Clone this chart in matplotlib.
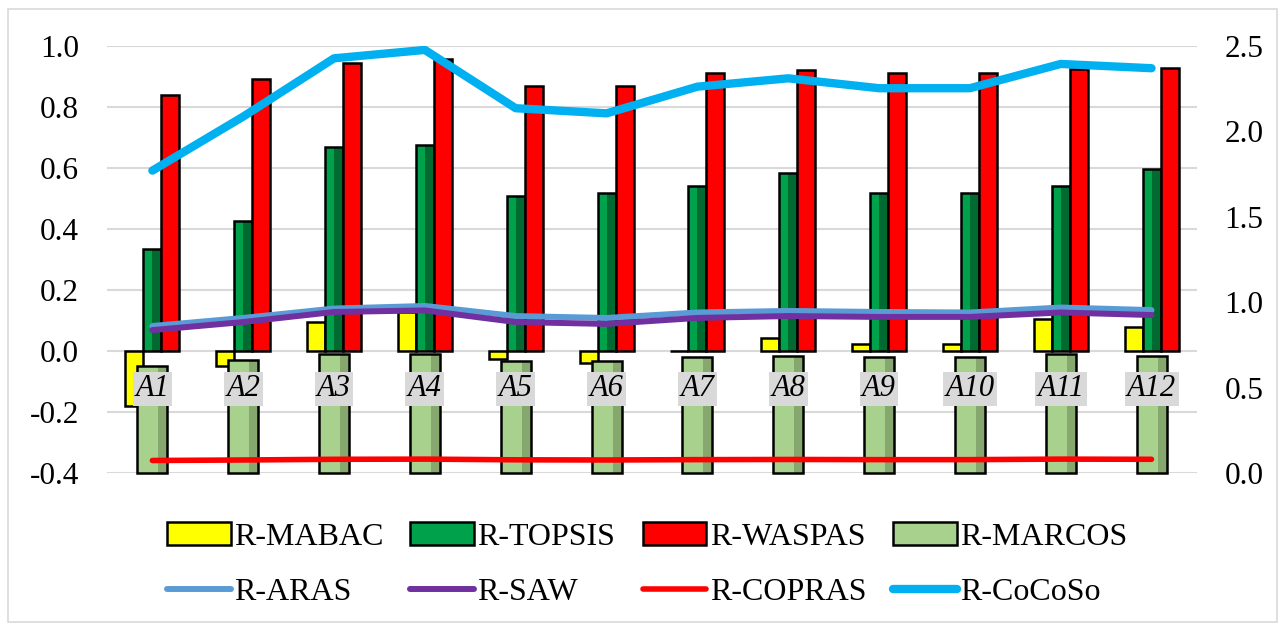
import matplotlib
matplotlib.use("Agg")
import matplotlib.pyplot as plt
import numpy as np
from matplotlib.patches import Patch, Rectangle
from matplotlib.lines import Line2D

# ---- data -------------------------------------------------------------
alternatives = ["A1", "A2", "A3", "A4", "A5", "A6",
                "A7", "A8", "A9", "A10", "A11", "A12"]

# primary axis (bars)
r_mabac = [-0.180, -0.047, 0.096, 0.130, -0.025, -0.040,
           0.000, 0.044, 0.024, 0.024, 0.104, 0.080]
r_topsis = [0.335, 0.428, 0.670, 0.676, 0.509, 0.520,
            0.540, 0.583, 0.518, 0.518, 0.542, 0.596]
r_waspas = [0.839, 0.891, 0.943, 0.956, 0.870, 0.868,
            0.910, 0.921, 0.912, 0.912, 0.925, 0.927]

# secondary axis (bars + lines)
r_marcos = [0.628, 0.663, 0.698, 0.698, 0.657, 0.657,
            0.682, 0.686, 0.682, 0.682, 0.698, 0.686]
r_aras = [0.862, 0.909, 0.964, 0.979, 0.920, 0.909,
          0.941, 0.950, 0.944, 0.941, 0.970, 0.955]
r_saw = [0.838, 0.885, 0.944, 0.953, 0.885, 0.874,
         0.909, 0.920, 0.915, 0.915, 0.941, 0.926]
r_copras = [0.075, 0.078, 0.082, 0.083, 0.079, 0.078,
            0.080, 0.081, 0.080, 0.080, 0.083, 0.082]
r_cocoso = [1.771, 2.087, 2.428, 2.477, 2.136, 2.106,
            2.262, 2.311, 2.253, 2.253, 2.395, 2.370]

left_ticks = [-0.4, -0.2, 0.0, 0.2, 0.4, 0.6, 0.8, 1.0]
right_ticks = [0.0, 0.5, 1.0, 1.5, 2.0, 2.5]

# ---- style ------------------------------------------------------------
plt.rcParams["font.family"] = ["Liberation Serif", "DejaVu Serif"]
plt.rcParams["axes.unicode_minus"] = False

C_MABAC = "#ffff00"
C_TOPSIS, C_TOPSIS_DARK = "#00a14b", "#006a30"
C_WASPAS = "#ff0000"
C_MARCOS, C_MARCOS_DARK = "#a9d18e", "#86a86f"
C_ARAS, C_SAW, C_COPRAS, C_COCOSO = "#5b9bd5", "#7030a0", "#ff0000", "#00b0f0"
GRID = "#d9d9d9"

fig = plt.figure(figsize=(12.84, 6.31), dpi=100)
ax = fig.add_axes([0.0833, 0.2499, 0.8489, 0.6772])
ax2 = ax.twinx()

x = np.arange(len(alternatives))
w = 0.198


def bevel_bars(axis, xpos, heights, width, base, shade, shade_frac, z, clip=True):
    """Bars with a darker right-hand strip and a black outline."""
    axis.bar(xpos, heights, width, color=base, linewidth=0, zorder=z)
    if shade is not None:
        axis.bar(xpos + width * (0.5 - shade_frac / 2), heights, width * shade_frac,
                 color=shade, linewidth=0, zorder=z)
    axis.bar(xpos, heights, width, facecolor="none", edgecolor="black",
             linewidth=1.8, zorder=z, clip_on=clip)


bevel_bars(ax, x - w, r_mabac, w, C_MABAC, None, 0, 2)
bevel_bars(ax, x, r_topsis, w, C_TOPSIS, C_TOPSIS_DARK, 0.5, 2)
bevel_bars(ax, x + w, r_waspas, w, C_WASPAS, None, 0, 2)

bevel_bars(ax2, x, r_marcos, 0.33, C_MARCOS, C_MARCOS_DARK, 0.3, 2, clip=False)

ax2.plot(x, r_aras, color=C_ARAS, lw=4.3, solid_capstyle="round", zorder=3)
ax2.plot(x, r_saw, color=C_SAW, lw=4.3, solid_capstyle="round", zorder=3)
ax2.plot(x, r_copras, color=C_COPRAS, lw=4.0, solid_capstyle="round", zorder=3)
ax2.plot(x, r_cocoso, color=C_COCOSO, lw=6.0, solid_capstyle="round", zorder=3)

# ---- axes -------------------------------------------------------------
ax.set_xlim(-0.5, len(alternatives) - 0.5)
ax.set_ylim(-0.4, 1.0)
ax2.set_ylim(0, 2.5)

ax.set_yticks(left_ticks)
ax.set_yticklabels([f"{t:.1f}" for t in left_ticks])
ax2.set_yticks(right_ticks)
ax2.set_yticklabels([f"{t:.1f}" for t in right_ticks])
ax.set_xticks([])

ax.tick_params(axis="y", length=0, pad=20, labelsize=22.5)
ax2.tick_params(axis="y", length=0, pad=20, labelsize=22.5)

ax.set_axisbelow(True)
ax.yaxis.grid(True, color=GRID, linewidth=1.5)
for a in (ax, ax2):
    for s in a.spines.values():
        s.set_visible(False)

# category labels sitting just under the zero line
for i, lab in enumerate(alternatives):
    ax2.annotate(lab, xy=(i, 0), xycoords=ax.transData,
                 xytext=(0, -27), textcoords="offset points",
                 ha="center", va="center", fontsize=22, style="italic",
                 bbox=dict(boxstyle="square,pad=0.08", fc=GRID, ec="none"),
                 zorder=6)

# ---- legend -----------------------------------------------------------
h_mabac = Patch(facecolor=C_MABAC, edgecolor="black", linewidth=1.8)
h_topsis = Patch(facecolor=C_TOPSIS, edgecolor="black", linewidth=1.8)
h_waspas = Patch(facecolor=C_WASPAS, edgecolor="black", linewidth=1.8)
h_marcos = Patch(facecolor=C_MARCOS, edgecolor="black", linewidth=1.8)
h_aras = Line2D([], [], color=C_ARAS, lw=4.3, solid_capstyle="round")
h_saw = Line2D([], [], color=C_SAW, lw=4.3, solid_capstyle="round")
h_copras = Line2D([], [], color=C_COPRAS, lw=4.0, solid_capstyle="round")
h_cocoso = Line2D([], [], color=C_COCOSO, lw=6.0, solid_capstyle="round")

handles = [h_mabac, h_aras, h_topsis, h_saw, h_waspas, h_copras, h_marcos, h_cocoso]
labels = ["R-MABAC", "R-ARAS", "R-TOPSIS", "R-SAW",
          "R-WASPAS", "R-COPRAS", "R-MARCOS", "R-CoCoSo"]
fig.legend(handles, labels, ncol=4, loc="center", bbox_to_anchor=(0.504, 0.105),
           frameon=False, fontsize=23, handlelength=2.0, handleheight=0.7,
           handletextpad=0.1, columnspacing=0.85, labelspacing=0.82,
           borderpad=0.0, borderaxespad=0.0)

# outer chart frame
fig.patches.append(Rectangle((8 / 1284, 9 / 631), 1269 / 1284, 613 / 631,
                             transform=fig.transFigure, fill=False,
                             edgecolor=GRID, linewidth=1.2))

fig.savefig("out.png", dpi=100)
